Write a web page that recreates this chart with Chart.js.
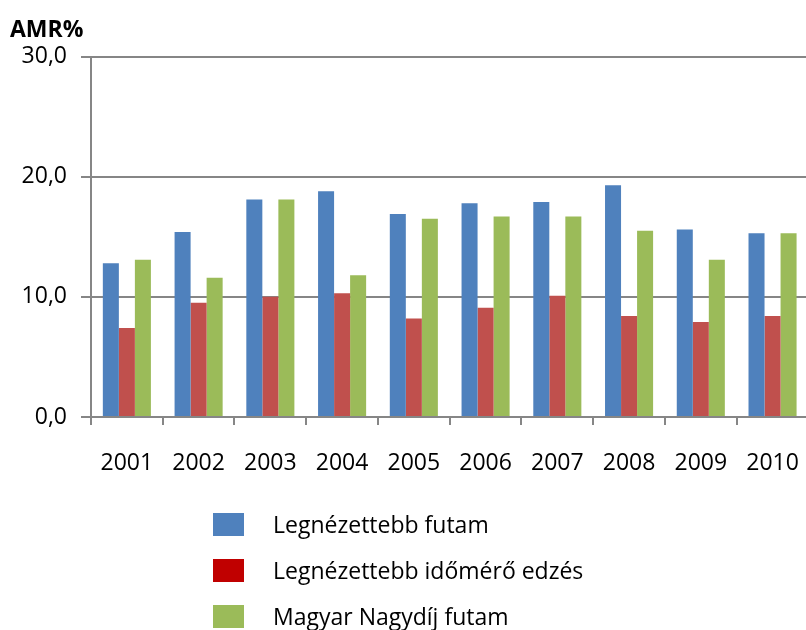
<!DOCTYPE html>
<html>
<head>
<meta charset="utf-8">
<script src="https://cdn.jsdelivr.net/npm/chart.js@4"></script>
<style>
  html, body { margin: 0; padding: 0; background: #fff; overflow: hidden; }
  .wrap { position: relative; width: 824px; height: 630px; }
  .legend { position: absolute; left: 213px; top: 513px; font-family: "Open Sans", sans-serif; font-size: 23px; color: #000; }
  .legend div { position: relative; height: 46px; }
  .legend span.box { position: absolute; left: 0; top: 0; width: 31px; height: 23px; }
  .legend span.txt { position: absolute; left: 60px; top: -5px; white-space: nowrap; }
</style>
</head>
<body>
<div class="wrap">
  <canvas id="myChart" width="824" height="630"></canvas>
  <div class="legend" id="legend"></div>
</div>
<script>
const years = ["2001", "2002", "2003", "2004", "2005", "2006", "2007", "2008", "2009", "2010"];
const futam = [12.8, 15.4, 18.1, 18.8, 16.9, 17.8, 17.9, 19.3, 15.6, 15.3];
const idomero = [7.4, 9.5, 10.0, 10.3, 8.2, 9.1, 10.1, 8.4, 7.9, 8.4];
const nagydij = [13.1, 11.6, 18.1, 11.8, 16.5, 16.7, 16.7, 15.5, 13.1, 15.3];
const seriesNames = ["Legnézettebb futam", "Legnézettebb időmérő edzés", "Magyar Nagydíj futam"];
const barColors = ["#4F81BD", "#C0504D", "#9BBB59"];
const legendColors = ["#4F81BD", "#C00000", "#9BBB59"];
const yTicks = [0, 10, 20, 30];

const gridColor = "#868686";
const font = "'Open Sans', sans-serif";

const ctx = document.getElementById("myChart").getContext("2d");
const myChart = new Chart(ctx, {
  type: "bar",
  data: {
    labels: years,
    datasets: [futam, idomero, nagydij].map((d, i) => ({
      label: seriesNames[i],
      data: d,
      backgroundColor: barColors[i],
      borderWidth: 0,
      barPercentage: 1.0,
      categoryPercentage: 0.67
    }))
  },
  options: {
    responsive: false,
    animation: false,
    layout: { padding: { left: 10, right: 3, top: 0, bottom: 153 } },
    plugins: {
      legend: { display: false },
      tooltip: { enabled: false },
      title: {
        display: true,
        text: "AMR%",
        align: "start",
        color: "#000",
        font: { family: font, size: 23, weight: "bold" },
        padding: { top: 17, bottom: 12 }
      }
    },
    scales: {
      x: {
        grid: {
          display: true,
          drawOnChartArea: false,
          drawTicks: true,
          tickLength: 8,
          color: gridColor,
          lineWidth: 2,
          offset: true
        },
        border: { display: true, color: gridColor, width: 2 },
        ticks: {
          color: "#000",
          font: { family: font, size: 23 },
          padding: 25,
          maxRotation: 0
        },
        afterFit: (scale) => { scale.height = 60; }
      },
      y: {
        min: 0,
        max: 30,
        afterBuildTicks: (scale) => { scale.ticks = yTicks.map(v => ({ value: v })); },
        grid: {
          color: gridColor,
          lineWidth: 2,
          tickLength: 10,
          drawTicks: true
        },
        border: { display: true, color: gridColor, width: 2 },
        ticks: {
          color: "#000",
          font: { family: font, size: 23 },
          padding: 14,
          callback: (v) => v.toFixed(1).replace(".", ",")
        },
        afterFit: (scale) => { scale.width = 81; }
      }
    }
  }
});

// legend
const legendEl = document.getElementById("legend");
seriesNames.forEach((name, i) => {
  const row = document.createElement("div");
  row.innerHTML = `<span class="box" style="background:${legendColors[i]}"></span><span class="txt">${name}</span>`;
  legendEl.appendChild(row);
});
</script>
</body>
</html>
